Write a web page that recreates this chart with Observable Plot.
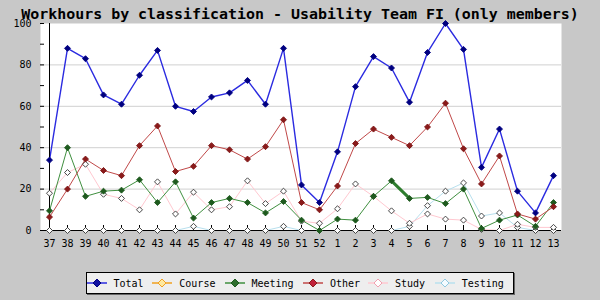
<!DOCTYPE html>
<html>
<head>
<meta charset="utf-8">
<script src="https://cdn.jsdelivr.net/npm/d3@7"></script>
<script src="https://cdn.jsdelivr.net/npm/@observablehq/plot@0.6"></script>
<style>
  html, body { margin: 0; padding: 0; }
  #wrap { position: relative; width: 600px; height: 300px; background: #c8c8c8; overflow: hidden; font-family: "DejaVu Sans Mono", monospace; }
  #title { position: absolute; left: 0; top: 11.3px; width: 600px; text-align: center; font: bold 14.95px "DejaVu Sans Mono", monospace; line-height: 6px; height: 6px; color: #000; white-space: nowrap; }
  #chart { position: absolute; left: 0; top: 0; }
  #legend { position: absolute; left: 86px; top: 272px; width: 426px; height: 20px; background: #eeeeee; border: 1px solid #000; box-shadow: 1px 1px 0 #666; }
  .item { position: absolute; top: 0; height: 20px; display: flex; align-items: center; font-size: 10px; color: #000; }
  .item svg { margin-right: 7px; }
</style>
</head>
<body>
<div id="wrap">
  <div id="chart"></div>
  <div id="title">Workhours by classification - Usability Team FI (only members)</div>
  <div id="legend"></div>
</div>
<script>
// ---- data ----
const weeks = ["37","38","39","40","41","42","43","44","45","46","47","48","49","50","51","52","1","2","3","4","5","6","7","8","9","10","11","12","13"];
const total   = [34,88,83,65.5,61,75,87,60,57.5,64.5,66.5,72.5,61,88,22,13.5, 38,69.5,84,78.5,62,86,100,87.5,30.5,49,19,8.5,26.5];
const course  = [null,null,null,null,null,null,null,0,0,0,0,0,0,0,0,0, 0,0,0,0,0,0,0,0,0,0,0,0,0];
const meeting = [9.5,40,16.5,19,19.5,24.5,13.5,23.5,6,13.5,15.5,13.5,8.5,14,5,0, 5.5,5,16.5,24,15.5,16,13,20,1,5,7.5,2,13.5];
const other   = [6.5,20,34.5,29,26.5,41,50.5,28.5,31,41,39,34.5,40.5,53.5,13.5,10, 21.5,42,49,45,41,50,61.5,39.5,22.5,36,8,5.5,11.5];
const study   = [18,28,32,17.5,15.5,10,23.5,8,18.5,10,11.5,24,13,19,4.5,3.5, 10.5,22.5,16.5,9.5,3.5,8,5.5,5,0.5,0,3,1.5,1.5];
const testing = [0,0,0,0,0,0,0,0,2,0,0,0,0,2,0,0, 0,0,0,0,2,12,19,23,7,8.5,1.5,0,0];
const seriesNames = ["Total","Course","Meeting","Other","Study","Testing"];
const yTicks = [0,20,40,60,80,100];

// ---- styles ----
const styles = {
  Total:   {line: "#2b2be0", width: 1.4, dotFill: "#000080", dotStroke: "#000080", legFill: "#1010a0", legStroke: "#000080"},
  Course:  {line: "#f0a020", width: 1.2, dotFill: null, dotStroke: null, legFill: "#ffe9a0", legStroke: "#f0a020"},
  Meeting: {line: "#3f8f3f", width: 1, dotFill: "#1e5a1e", dotStroke: "#1e5a1e", legFill: "#2e6e2e", legStroke: "#1e5a1e"},
  Other:   {line: "#c04848", width: 1, dotFill: "#8b1a1a", dotStroke: "#7a1515", legFill: "#c0203a", legStroke: "#8b1a1a"},
  Study:   {line: "#ffc8d0", width: 1, dotFill: "white", dotStroke: "#333", legFill: "white", legStroke: "#f0a0b0"},
  Testing: {line: "#b8e0ee", width: 1, dotFill: "white", dotStroke: "#333", legFill: "#f4fbff", legStroke: "#90c8e0"}
};

const valuesBy = {Total: total, Course: course, Meeting: meeting, Other: other, Study: study, Testing: testing};
const rowsOf = name => weeks.map((w, i) => ({week: w, value: valuesBy[name][i], series: name}));

const drawOrder = ["Course","Testing","Study","Meeting","Other","Total"];
const marks = [
  Plot.frame({fill: "white", stroke: null}),
  Plot.gridY([20,40,60,80], {stroke: "#d0d0d0", strokeOpacity: 1}),
];
for (const name of drawOrder) {
  const s = styles[name];
  const rows = rowsOf(name);
  marks.push(Plot.line(rows, {x: "week", y: "value", stroke: s.line, strokeWidth: s.width, defined: d => d.value != null}));
  if (name === "Meeting") {
    marks.push(Plot.line(rows.filter(d => d.week === "4" || d.week === "5"), {x: "week", y: "value", stroke: "#2e7d2e", strokeWidth: 3}));
  }
}
marks.push(Plot.ruleY([0], {stroke: "#000"}));
marks.push(Plot.ruleX([weeks[0]], {stroke: "#000"}));
marks.push(Plot.axisX({tickSize: 5, dy: -5, tickFormat: () => "", label: null}));
for (const name of drawOrder) {
  const s = styles[name];
  if (!s.dotFill) continue;
  marks.push(Plot.dot(rowsOf(name).filter(d => d.value != null), {x: "week", y: "value", symbol: "diamond2", r: 2.7, fill: s.dotFill, stroke: s.dotStroke, strokeWidth: 0.9}));
}
marks.push(Plot.axisX({tickSize: 0, tickPadding: 9, label: null, fontSize: 10}));
marks.push(Plot.axisY({ticks: yTicks, tickSize: 0, tickPadding: 9, label: null, fontSize: 10}));
marks.push(Plot.axisY({ticks: d3.range(0, 101, 10), tickSize: 4, dx: 4, tickFormat: () => "", label: null}));

const chart = Plot.plot({
  width: 600, height: 300,
  marginTop: 23, marginRight: 39, marginBottom: 70, marginLeft: 40,
  x: {type: "point", domain: weeks, padding: 0},
  y: {domain: [0, 100]},
  style: {background: "transparent", fontFamily: "DejaVu Sans Mono", fontSize: "10px", color: "#000"},
  marks
});
document.getElementById("chart").appendChild(chart);

// ---- legend ----
const textStarts = [113.5, 179.3, 251.5, 330, 395, 461.7];
const leg = document.getElementById("legend");
seriesNames.forEach((name, i) => {
  const s = styles[name];
  const item = document.createElement("div");
  item.className = "item";
  item.style.left = (textStarts[i] - 87 - 27) + "px";
  item.innerHTML = `<svg width="20" height="10" viewBox="0 0 20 10">
      <line x1="0" y1="5" x2="20" y2="5" stroke="${s.line}" stroke-width="1.5"/>
      <path d="M10,1 L14,5 L10,9 L6,5 Z" fill="${s.legFill}" stroke="${s.legStroke}" stroke-width="1"/>
    </svg><span>${name}</span>`;
  leg.appendChild(item);
});
</script>
</body>
</html>
